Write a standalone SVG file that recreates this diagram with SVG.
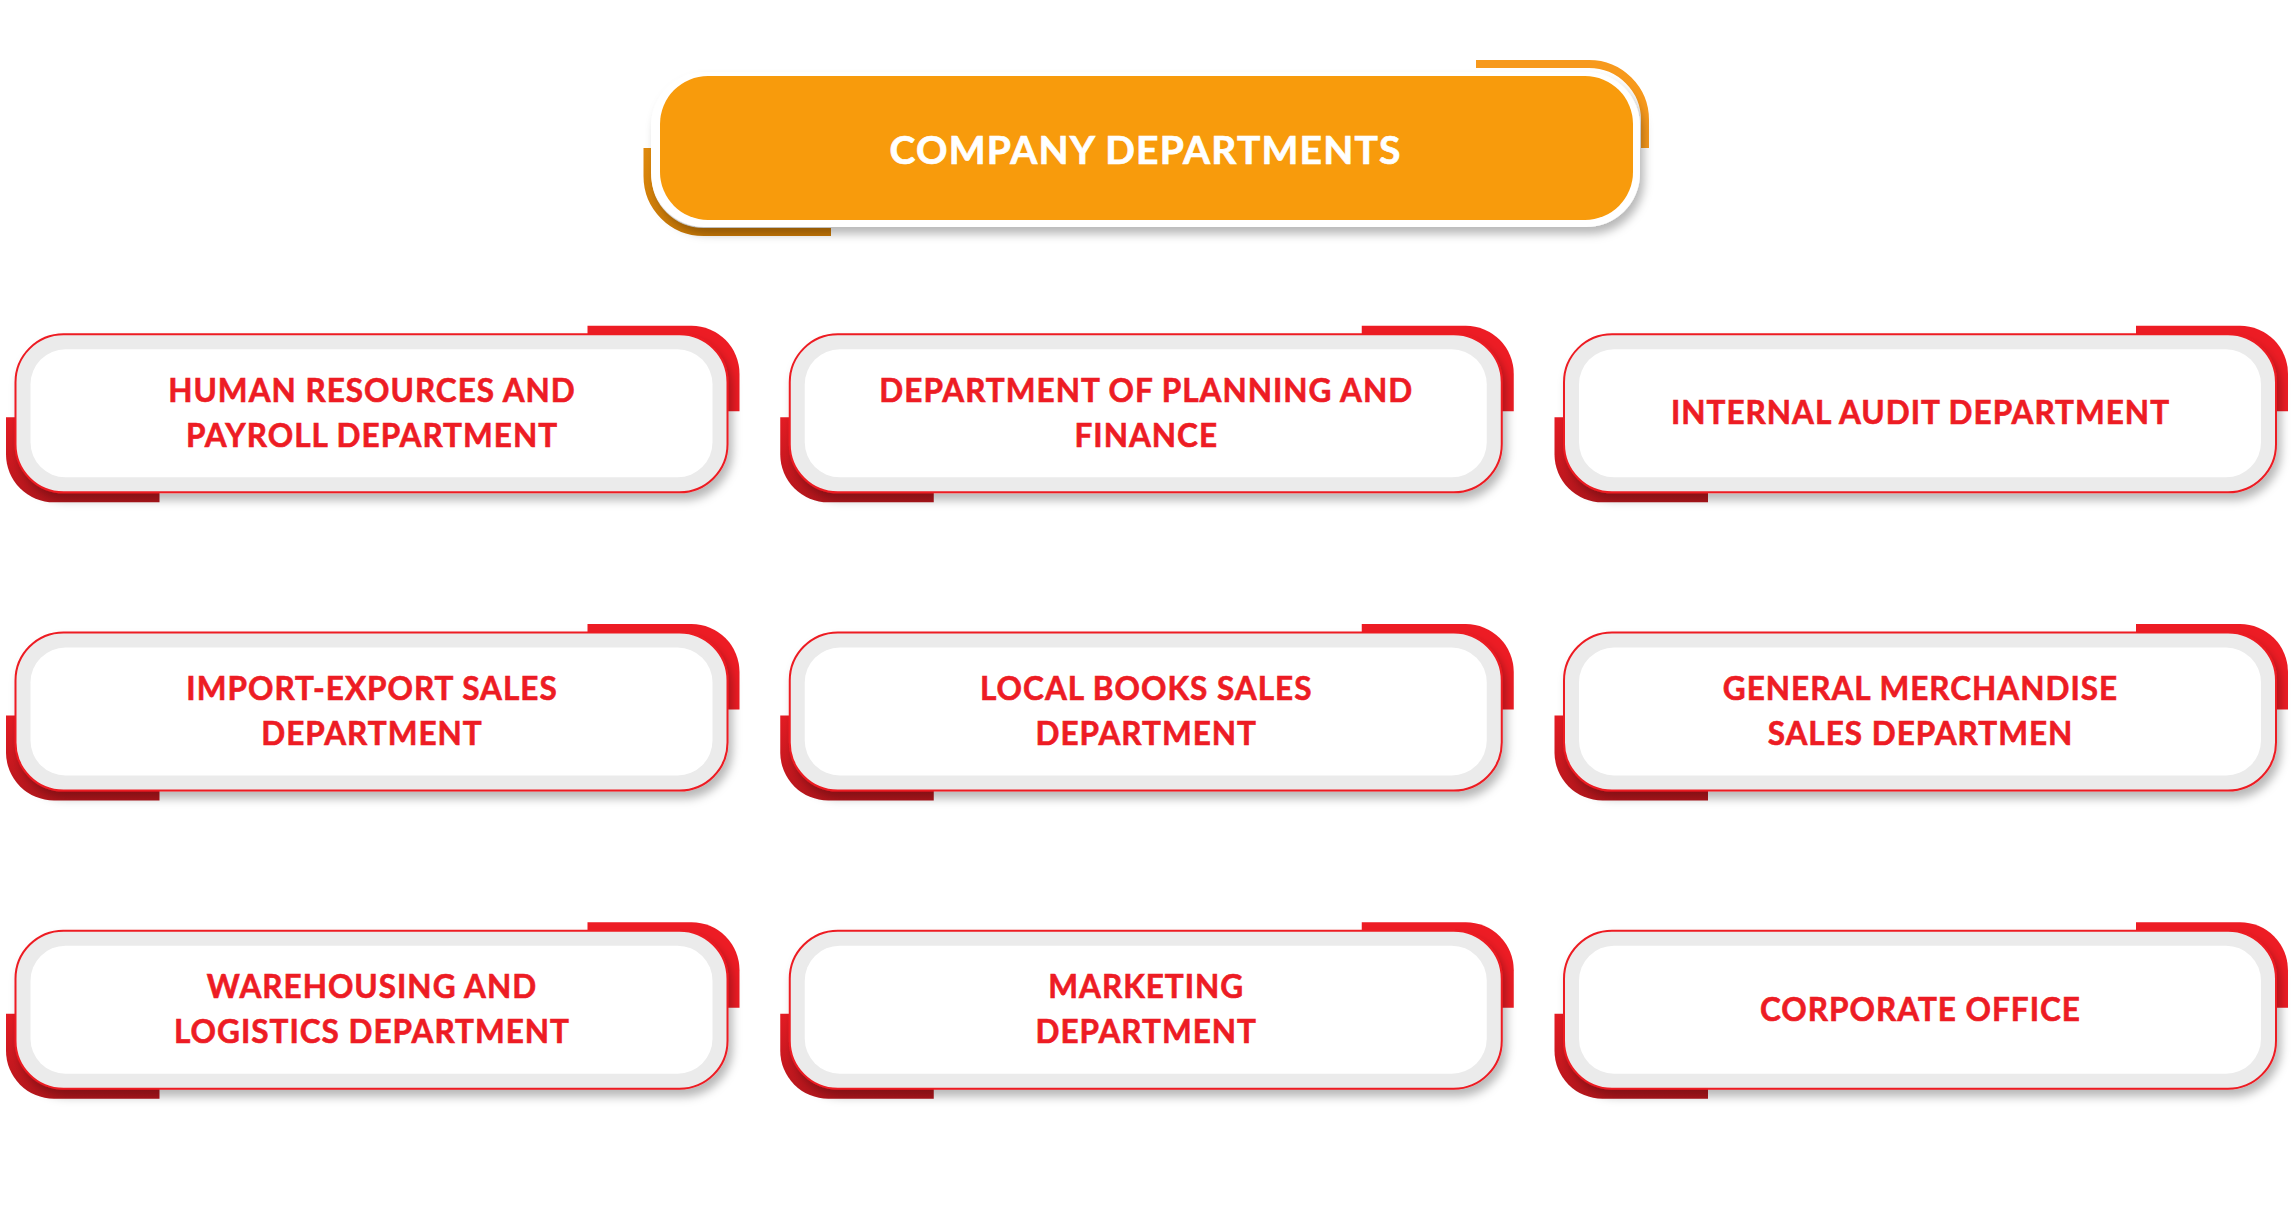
<svg xmlns="http://www.w3.org/2000/svg" xmlns:xlink="http://www.w3.org/1999/xlink" width="2293" height="1214" viewBox="0 0 2293 1214">
  <style>
    .card-text { font-family: "Lato", "Liberation Sans", sans-serif; font-weight: 700; font-size: 31.5px; letter-spacing: 1px; fill: #ed1c24; stroke: #ed1c24; stroke-width: 0.6px; text-anchor: middle; }
    .title-text { font-family: "Lato", "Liberation Sans", sans-serif; font-weight: 700; font-size: 39px; letter-spacing: 1.2px; fill: #ffffff; stroke: #ffffff; stroke-width: 0.7px; text-anchor: middle; }
    .outer { fill: #ebebeb; stroke: #ed1c24; stroke-width: 2; }
    .inner { fill: #ffffff; }
    .acc-top { fill: #ed1c24; }
    .acc-bot { fill: url(#redDark); }
  </style>
  <defs>
    <linearGradient id="redDark" x1="0" y1="0" x2="0" y2="1">
      <stop offset="0" stop-color="#e41b23"/>
      <stop offset="1" stop-color="#b3161c"/>
    </linearGradient>
    <linearGradient id="orangeDark" x1="0" y1="0" x2="0" y2="1">
      <stop offset="0" stop-color="#e08a0c"/>
      <stop offset="1" stop-color="#c97906"/>
    </linearGradient>
    <filter id="shadow" x="-10%" y="-20%" width="125%" height="150%">
      <feDropShadow dx="4" dy="7" stdDeviation="5" flood-color="#000000" flood-opacity="0.28"/>
    </filter>
    <g id="card">
      <path class="acc-top" d="M572,-8.5 H676 A48,48 0 0 1 724,39.5 V77 H572 Z"/>
      <path class="acc-bot" d="M-9.5,83 V120 A48,48 0 0 0 38.5,168 H144 V83 Z"/>
      <rect class="outer" x="0" y="0" width="712" height="158" rx="48" ry="48" filter="url(#shadow)"/>
      <rect class="inner" x="15" y="15" width="682" height="128" rx="35" ry="35"/>
    </g>
  </defs>
  <rect width="2293" height="1214" fill="#ffffff"/>

  <g id="connectors"></g>

  <g id="title">
    <path d="M1476,64 H1589 A56,56 0 0 1 1645,120 V148" fill="none" stroke="#f7991c" stroke-width="8"/>
    <path d="M647.5,148 V176 A56,56 0 0 0 703.5,232 H831" fill="none" stroke="url(#orangeDark)" stroke-width="8"/>
    <rect x="651" y="72" width="989" height="155" rx="54" ry="54" fill="#ffffff" filter="url(#shadow)"/>
    <rect x="660" y="76" width="973" height="144" rx="48" ry="48" fill="#f89b0c"/>
    <text class="title-text" x="1145.6" y="164">COMPANY DEPARTMENTS</text>
  </g>

  <g id="node-hr" transform="translate(15.5,334.3)">
    <use xlink:href="#card"/>
    <text class="card-text" x="356.5" y="67.4">HUMAN RESOURCES AND</text>
    <text class="card-text" x="356.5" y="112.4">PAYROLL DEPARTMENT</text>
  </g>
  <g id="node-planning" transform="translate(789.75,334.3)">
    <use xlink:href="#card"/>
    <text class="card-text" x="356.5" y="67.4">DEPARTMENT OF PLANNING AND</text>
    <text class="card-text" x="356.5" y="112.4">FINANCE</text>
  </g>
  <g id="node-audit" transform="translate(1564,334.3)">
    <use xlink:href="#card"/>
    <text class="card-text" x="356.5" y="90">INTERNAL AUDIT DEPARTMENT</text>
  </g>

  <g id="node-import" transform="translate(15.5,632.5)">
    <use xlink:href="#card"/>
    <text class="card-text" x="356.5" y="67.4">IMPORT-EXPORT SALES</text>
    <text class="card-text" x="356.5" y="112.4">DEPARTMENT</text>
  </g>
  <g id="node-books" transform="translate(789.75,632.5)">
    <use xlink:href="#card"/>
    <text class="card-text" x="356.5" y="67.4">LOCAL BOOKS SALES</text>
    <text class="card-text" x="356.5" y="112.4">DEPARTMENT</text>
  </g>
  <g id="node-merch" transform="translate(1564,632.5)">
    <use xlink:href="#card"/>
    <text class="card-text" x="356.5" y="67.4">GENERAL MERCHANDISE</text>
    <text class="card-text" x="356.5" y="112.4">SALES DEPARTMEN</text>
  </g>

  <g id="node-warehouse" transform="translate(15.5,930.7)">
    <use xlink:href="#card"/>
    <text class="card-text" x="356.5" y="67.4">WAREHOUSING AND</text>
    <text class="card-text" x="356.5" y="112.4">LOGISTICS DEPARTMENT</text>
  </g>
  <g id="node-marketing" transform="translate(789.75,930.7)">
    <use xlink:href="#card"/>
    <text class="card-text" x="356.5" y="67.4">MARKETING</text>
    <text class="card-text" x="356.5" y="112.4">DEPARTMENT</text>
  </g>
  <g id="node-corporate" transform="translate(1564,930.7)">
    <use xlink:href="#card"/>
    <text class="card-text" x="356.5" y="90">CORPORATE OFFICE</text>
  </g>
</svg>
